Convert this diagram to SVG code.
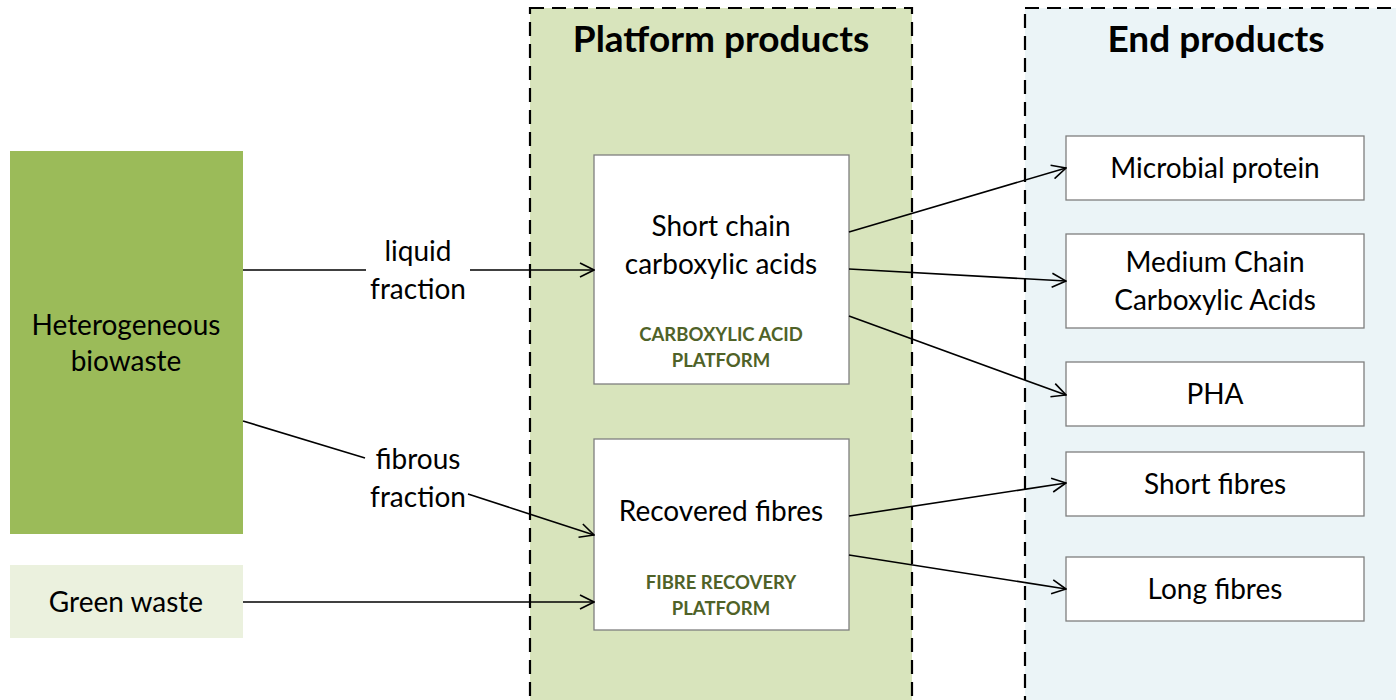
<svg xmlns="http://www.w3.org/2000/svg" width="1396" height="700" viewBox="0 0 1396 700">
<defs>
<style>
text{font-family:Lato,"Open Sans","Liberation Sans",sans-serif;fill:#000;text-anchor:middle}
.t{font-size:28px}
.h{font-size:37px;font-weight:bold}
.p{font-size:18.5px;font-weight:bold;fill:#4F6228}
.box{fill:#fff;stroke:#7F7F7F;stroke-width:1.3}
.panel{stroke:#000;stroke-width:2.2;stroke-dasharray:14 8}
.c{stroke:#000;stroke-width:1.6;fill:none}
.a{marker-end:url(#arr)}
</style>
<marker id="arr" viewBox="0 0 16 16" refX="15" refY="8" markerWidth="16" markerHeight="16" markerUnits="userSpaceOnUse" orient="auto">
<path d="M1,1 L15,8 L1,15" fill="none" stroke="#000" stroke-width="1.6"/>
</marker>
</defs>
<rect width="1396" height="700" fill="#fff"/>
<g id="platform-panel">
<rect class="panel" x="530" y="8" width="382" height="710" fill="#D8E4BC"/>
<text class="h" x="721" y="52">Platform products</text>
</g>
<g id="end-panel">
<rect class="panel" x="1025" y="8" width="400" height="710" fill="#EBF4F7"/>
<text class="h" x="1216" y="52">End products</text>
</g>
<g id="biowaste">
<rect x="10" y="151" width="233" height="383" fill="#9BBB59"/>
<text class="t" x="126" y="335">Heterogeneous</text>
<text class="t" x="126" y="371">biowaste</text>
</g>
<g id="greenwaste">
<rect x="10" y="565" width="233" height="73" fill="#EBF1DE"/>
<text class="t" x="126" y="612">Green waste</text>
</g>
<g id="scca">
<rect class="box" x="594" y="155" width="255" height="229"/>
<text class="t" x="721" y="236">Short chain</text>
<text class="t" x="721" y="274">carboxylic acids</text>
<text class="p" x="721" y="341">CARBOXYLIC ACID</text>
<text class="p" x="721" y="367">PLATFORM</text>
</g>
<g id="fibres">
<rect class="box" x="594" y="439" width="255" height="191"/>
<text class="t" x="721" y="521">Recovered fibres</text>
<text class="p" x="721" y="589">FIBRE RECOVERY</text>
<text class="p" x="721" y="615">PLATFORM</text>
</g>
<g id="microbial">
<rect class="box" x="1066" y="136" width="298" height="64"/>
<text class="t" x="1215" y="178">Microbial protein</text>
</g>
<g id="mcca">
<rect class="box" x="1066" y="234" width="298" height="94"/>
<text class="t" x="1215" y="272">Medium Chain</text>
<text class="t" x="1215" y="310">Carboxylic Acids</text>
</g>
<g id="pha">
<rect class="box" x="1066" y="362" width="298" height="64"/>
<text class="t" x="1215" y="404">PHA</text>
</g>
<g id="shortfibres">
<rect class="box" x="1066" y="452" width="298" height="64"/>
<text class="t" x="1215" y="494">Short fibres</text>
</g>
<g id="longfibres">
<rect class="box" x="1066" y="557" width="298" height="64"/>
<text class="t" x="1215" y="599">Long fibres</text>
</g>
<g id="connectors">
<line class="c" x1="243" y1="270" x2="366" y2="270"/>
<line class="c a" x1="470" y1="270" x2="594" y2="270"/>
<text class="t" x="418" y="261">liquid</text>
<text class="t" x="418" y="299">fraction</text>
<line class="c" x1="243" y1="421" x2="365" y2="458"/>
<line class="c a" x1="468" y1="494" x2="594" y2="535"/>
<text class="t" x="418" y="469">fibrous</text>
<text class="t" x="418" y="507">fraction</text>
<line class="c a" x1="243" y1="602" x2="594" y2="602"/>
<line class="c a" x1="849" y1="232" x2="1066" y2="168"/>
<line class="c a" x1="849" y1="269" x2="1066" y2="281"/>
<line class="c a" x1="849" y1="316" x2="1066" y2="395"/>
<line class="c a" x1="849" y1="516" x2="1066" y2="483"/>
<line class="c a" x1="849" y1="555" x2="1066" y2="589"/>
</g>
</svg>
